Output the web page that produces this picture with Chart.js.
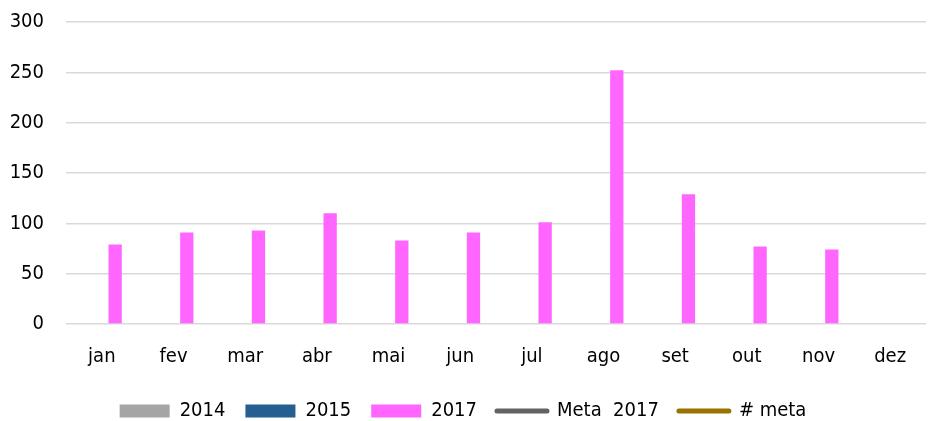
<!DOCTYPE html>
<html>
<head>
<meta charset="utf-8">
<script src="https://cdn.jsdelivr.net/npm/chart.js@4/dist/chart.umd.min.js"></script>
<style>
  body { margin: 0; background: #fff; }
  #wrap { width: 929px; height: 421px; }
</style>
</head>
<body>
<div id="wrap"><canvas id="barGraph1" width="929" height="421"></canvas></div>
<script>
var months = ['jan', 'fev', 'mar', 'abr', 'mai', 'jun', 'jul', 'ago', 'set', 'out', 'nov', 'dez'];
var yTicks = [0, 50, 100, 150, 200, 250, 300];
var values2014 = [null, null, null, null, null, null, null, null, null, null, null, null];
var values2015 = [null, null, null, null, null, null, null, null, null, null, null, null];
var values2017 = [79, 91, 93, 110, 83, 91, 101, 252, 129, 77, 74, null];
var meta2017 = [null, null, null, null, null, null, null, null, null, null, null, null];
var numMeta = [null, null, null, null, null, null, null, null, null, null, null, null];

var fontFamily = '"Liberation Sans Narrow", "DejaVu Sans Condensed", sans-serif';

var chartdata = {
	labels: months,
	datasets: [
		{ type: 'bar', label: '2014', backgroundColor: '#A5A5A5', data: values2014 },
		{ type: 'bar', label: '2015', backgroundColor: '#255E91', data: values2015 },
		{ type: 'bar', label: '2017', backgroundColor: '#FF66FF', data: values2017 },
		{ type: 'line', label: 'Meta  2017', borderColor: '#636363', backgroundColor: '#636363', borderWidth: 5, data: meta2017 },
		{ type: 'line', label: '# meta', borderColor: '#997300', backgroundColor: '#997300', borderWidth: 5, data: numMeta }
	]
};

var ctx = document.getElementById('barGraph1');

var barGraph = new Chart(ctx, {
	type: 'bar',
	data: chartdata,
	options: {
		responsive: false,
		animation: false,
		categoryPercentage: 0.557,
		barPercentage: 1,
		layout: { autoPadding: false, padding: { left: 0, right: 3, top: 22, bottom: -10 } },
		plugins: {
			tooltip: { enabled: false },
			legend: {
				position: 'bottom',
				labels: {
					color: '#000',
					font: { family: fontFamily, size: 20 },
					usePointStyle: true,
					pointStyleWidth: 50,
					boxHeight: 13,
					padding: 20,
					generateLabels: function(chart) {
						var items = Chart.defaults.plugins.legend.labels.generateLabels(chart);
						items.forEach(function(it, i) {
							var ds = chart.data.datasets[i];
							if (ds.type === 'line') {
								it.pointStyle = 'line';
								it.lineWidth = 5;
								it.lineCap = 'round';
								it.strokeStyle = ds.borderColor;
							} else {
								it.pointStyle = 'rect';
								it.lineWidth = 0;
							}
						});
						return items;
					}
				}
			}
		},
		scales: {
			x: {
				grid: { display: false },
				border: { display: false },
				ticks: { color: '#000', font: { family: fontFamily, size: 20 }, padding: 13 },
				afterFit: function(scale) {
					scale.height = 57;
					scale.paddingLeft = 0;
					scale.paddingRight = 0;
				}
			},
			y: {
				min: 0,
				max: 300,
				afterBuildTicks: function(scale) { scale.ticks = yTicks.map(function(v) { return { value: v }; }); },
				grid: { color: '#D9D9D9', lineWidth: 1.5, drawTicks: false },
				border: { display: false },
				ticks: { color: '#000', font: { family: fontFamily, size: 20 }, padding: 22 },
				afterFit: function(scale) {
					scale.width = 66;
					scale.paddingTop = 0;
					scale.paddingBottom = 0;
				}
			}
		}
	}
});
</script>
</body>
</html>
